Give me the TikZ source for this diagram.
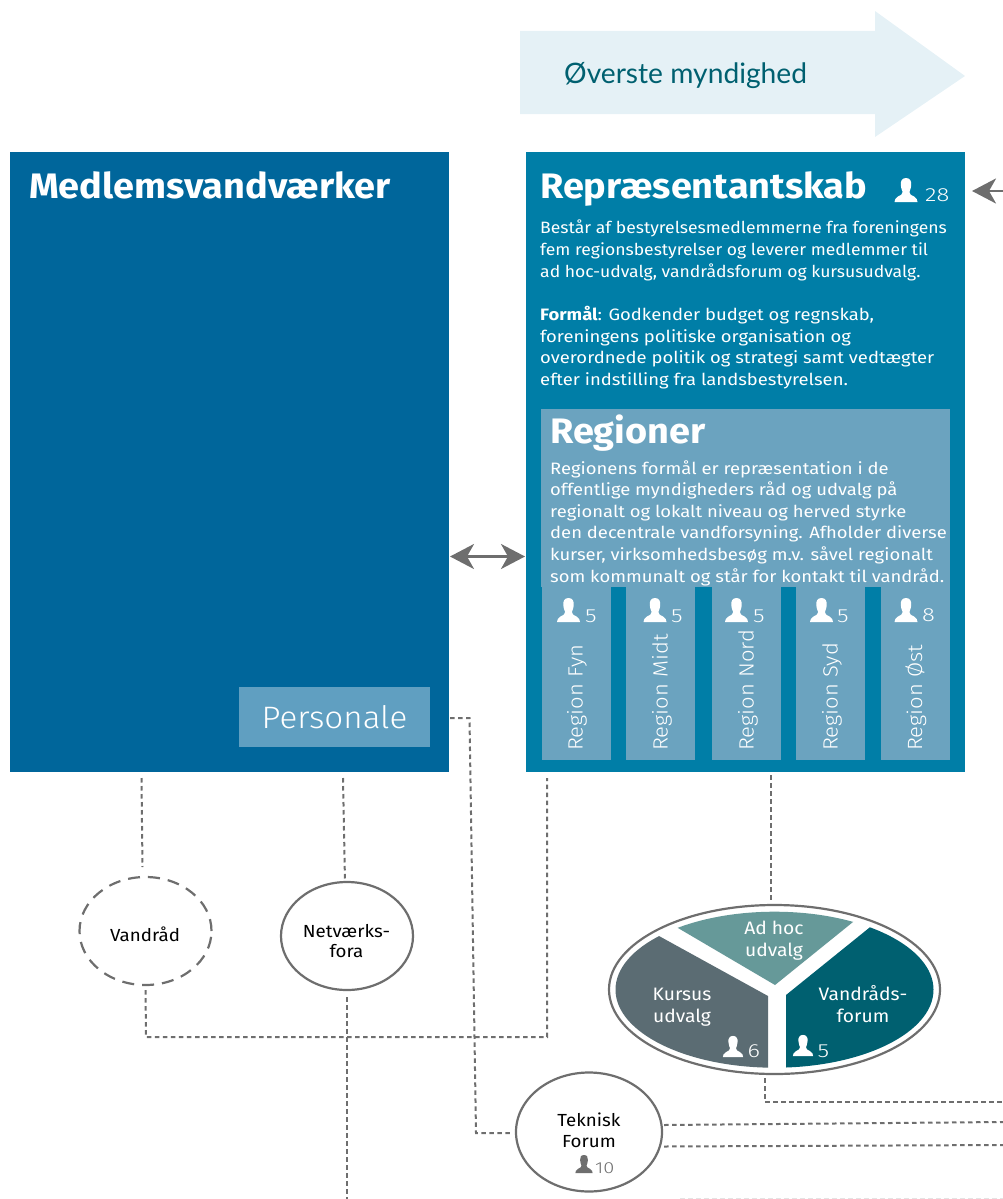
\documentclass[tikz,border=0pt]{standalone}
\usepackage{fontspec}
\setmainfont[FakeStretch=1.07,BoldFont={Fira Sans Bold}]{Fira Sans Light}
\newfontfamily\regf[FakeStretch=1.07]{Fira Sans}
\newfontfamily\regw[FakeStretch=1.117]{Fira Sans}
\newfontfamily\lightf[FakeStretch=1.07]{Fira Sans Light}
\newfontfamily\boldf[FakeStretch=1.07]{Fira Sans Bold}
\newfontfamily\boldw[FakeStretch=1.117]{Fira Sans Bold}
\newfontfamily\cntf[FakeStretch=1.25]{Fira Sans Light}
\newfontfamily\topf{Lato}
\usetikzlibrary{arrows.meta,shapes.geometric}
\definecolor{cmedlem}{HTML}{00669B}
\definecolor{crepr}{HTML}{007EA7}
\definecolor{cregion}{HTML}{6BA3BF}
\definecolor{cpers}{HTML}{609FC1}
\definecolor{cpale}{HTML}{E5F1F6}
\definecolor{cline}{HTML}{6E6E6E}
\definecolor{cadhoc}{HTML}{669999}
\definecolor{ckursus}{HTML}{5B6C73}
\definecolor{cvand}{HTML}{006070}
\definecolor{cfaint}{HTML}{E4E4E4}
\tikzset{
  panel/.style={draw=none,inner sep=0pt,anchor=north west},
  txt/.style={inner sep=0pt,anchor=north west,align=left,text=white,font=\regf\fontsize{16.4}{21.6}\selectfont},
  txtw/.style={txt,font=\regw\fontsize{16.5}{21.6}\selectfont},
  title/.style={inner sep=0pt,anchor=base west,text=white,font=\boldf\fontsize{35.4}{36}\selectfont},
  count/.style={inner sep=0pt,anchor=base west,text=white,font=\cntf\fontsize{19}{19}\selectfont},
  regcol/.style={panel,fill=cregion,minimum width=69pt,minimum height=173pt},
  regtxt/.style={inner sep=0pt,anchor=west,rotate=90,text=white,font=\lightf\fontsize{20.6}{20}\selectfont},
  circ/.style={ellipse,draw=cline,line width=2.2pt,fill=white,inner sep=0pt},
  clabel/.style={inner sep=0pt,align=center,text=black,font=\regf\fontsize{17.5}{20.8}\selectfont},
  dline/.style={draw=cline,line width=2pt,dash pattern=on 4.5pt off 3.5pt},
  tip/.style={-{Stealth[length=24pt,width=25pt,inset=7pt]},draw=cline,fill=cline,line width=2.6pt},
  segt/.style={inner sep=0pt,align=center,text=white,font=\regf\fontsize{18}{22}\selectfont},
}
\newcommand{\person}[4]{%
  \fill[#4,shift={(#1,#2)},scale=#3]
    (0,-24) .. controls (-4.2,-24) and (-5.6,-20.5) .. (-5.2,-17)
    .. controls (-5,-13.5) and (-3.8,-11.5) .. (-3.4,-10)
    .. controls (-3.2,-8) and (-5,-7) .. (-8,-5.5)
    .. controls (-10.5,-4.2) and (-11.5,-2) .. (-11.5,0)
    -- (11.5,0)
    .. controls (11.5,-2) and (10.5,-4.2) .. (8,-5.5)
    .. controls (5,-7) and (3.2,-8) .. (3.4,-10)
    .. controls (3.8,-11.5) and (5,-13.5) .. (5.2,-17)
    .. controls (5.6,-20.5) and (4.2,-24) .. (0,-24) -- cycle;}
\begin{document}
\begin{tikzpicture}[x=1pt,y=-1pt]
\useasboundingbox (0,0) rectangle (1003,1199);
% top arrow
\fill[cpale] (520,31) -- (875,31) -- (875,11) -- (965,76) -- (875,137) -- (875,114) -- (520,114) -- cycle;
\node[inner sep=0pt,anchor=base west,text=cvand,font=\topf\fontsize{28.2}{30}\selectfont] (top) at (564,83) {Øverste myndighed};
% panels
\node[panel,fill=cmedlem,minimum width=439pt,minimum height=620pt] (medlem) at (10,152) {};
\node[panel,fill=crepr,minimum width=439pt,minimum height=620pt] (repr) at (526,152) {};
\node[title] (medlemt) at (29,198) {Medlemsvandværker};
\node[title] (reprt) at (540,198) {Repræsentantskab};
\person{906}{202}{1}{white}
\node[count] (reprn) at (925,201) {28};
\node[txt] (repra) at (540,220) {Består af bestyrelsesmedlemmerne fra foreningens\\fem regionsbestyrelser og leverer medlemmer til\\ad hoc-udvalg, vandrådsforum og kursusudvalg.};
\node[txtw] (reprb) at (540,306) {{\boldw Formål}: Godkender budget og regnskab,\\foreningens politiske organisation og\\overordnede politik og strategi samt vedtægter\\efter indstilling fra landsbestyrelsen.};
% regioner
\node[panel,fill=cregion,minimum width=409pt,minimum height=178pt] (reg) at (541,409) {};
\node[title] (regt) at (550,443) {Regioner};
\node[txtw] (regb) at (550,460) {Regionens formål er repræsentation i de\\offentlige myndigheders råd og udvalg på\\regionalt og lokalt niveau og herved styrke\\den decentrale vandforsyning. Afholder diverse\\kurser, virksomhedsbesøg m.v. såvel regionalt\\som kommunalt og står for kontakt til vandråd.};
% region columns
\node[regcol] (r1) at (542,587) {};
\node[regcol] (r2) at (626,587) {};
\node[regcol] (r3) at (712,587) {};
\node[regcol] (r4) at (796,587) {};
\node[regcol] (r5) at (881,587) {};
\node[regtxt] (r1t) at (577,751) {Region Fyn};
\node[regtxt] (r2t) at (662,751) {Region Midt};
\node[regtxt] (r3t) at (748,751) {Region Nord};
\node[regtxt] (r4t) at (832,751) {Region Syd};
\node[regtxt] (r5t) at (916,751) {Region Øst};
\person{568.5}{622}{1}{white}
\person{655}{622}{1}{white}
\person{736.5}{622}{1}{white}
\person{821.5}{622}{1}{white}
\person{906}{622}{1}{white}
\node[count] (r1n) at (585,622) {5};
\node[count] (r2n) at (671,622) {5};
\node[count] (r3n) at (753,622) {5};
\node[count] (r4n) at (837,622) {5};
\node[count] (r5n) at (922,621) {8};
% personale
\node[panel,fill=cpers,minimum width=191.5pt,minimum height=60pt,text=white,font=\lightf\fontsize{31}{30}\selectfont] (pers) at (238.5,687) {Personale};
% circles
\node[circ,minimum width=132pt,minimum height=108pt,dash pattern=on 12pt off 8pt] (vandraad) at (145.5,931) {};
\node[clabel] (vandraadt) at (145,934) {Vandråd};
\node[circ,minimum width=132pt,minimum height=108pt] (netv) at (347,936) {};
\node[clabel] (netvt) at (346.5,941) {Netværks-\\fora};
\node[circ,minimum width=146pt,minimum height=119pt] (tek) at (589,1132) {};
\node[clabel] (tekt) at (589,1130.5) {Teknisk\\Forum};
\person{584}{1173}{0.75}{cline}
\node[inner sep=0pt,anchor=base west,text=cline,font=\cntf\fontsize{16}{16}\selectfont] (tekn) at (595,1173) {10};
% big ellipse
\node[ellipse,draw=cline,line width=2.2pt,fill=white,minimum width=331pt,minimum height=169pt,inner sep=0pt] (big) at (774.5,989.5) {};
\begin{scope}
\clip (774.5,989.7) ellipse [x radius=159,y radius=78];
\fill[cadhoc] (775,985) -- (581,871) -- (931,859) -- cycle;
\fill[ckursus] (768,996) -- (550,876) -- (550,1100) -- (768,1100) -- cycle;
\fill[cvand] (786,995) -- (952,861) -- (1000,861) -- (1000,1100) -- (786,1100) -- cycle;
\end{scope}
\node[segt] (adhoc) at (774,941) {Ad hoc\\udvalg};
\node[segt] (kursus) at (682,1007) {Kursus\\udvalg};
\node[segt] (vforum) at (863,1004) {Vandråds-\\forum};
\person{733}{1057}{0.88}{white}
\node[count] (kn) at (747.5,1057) {6};
\person{803}{1056}{0.88}{white}
\node[count] (vn) at (817.5,1057) {5};
% connector ends
\coordinate (a1) at (450,556.5);
\coordinate (a2) at (525,556.5);
\coordinate (b1) at (1003,191);
\coordinate (b2) at (972,191);
\coordinate (c1) at (141.5,778); \coordinate (c2) at (142.5,867);
\coordinate (d1) at (343,778); \coordinate (d2) at (345,882);
\coordinate (e1) at (145.5,990); \coordinate (e2) at (146,1037); \coordinate (e3) at (547,1037); \coordinate (e4) at (547,778);
\coordinate (f1) at (347,997); \coordinate (f2) at (347,1199);
\coordinate (g1) at (450,718); \coordinate (g2) at (469.5,718); \coordinate (g3) at (476,1133); \coordinate (g4) at (512,1133);
\coordinate (h1) at (771,775); \coordinate (h2) at (771,903);
\coordinate (i1) at (765,1078); \coordinate (i2) at (765,1102); \coordinate (i3) at (1003,1102);
\coordinate (j1) at (664,1125); \coordinate (j2) at (1003,1122);
\coordinate (k1) at (664,1146.5); \coordinate (k2) at (1003,1145);
\coordinate (l1) at (680,1198); \coordinate (l2) at (1003,1198);
% connectors
\draw[tip] (b1) -- (b2);
\draw[{Stealth[length=24pt,width=25pt,inset=7pt]}-{Stealth[length=24pt,width=25pt,inset=7pt]},draw=cline,fill=cline,line width=2.6pt] (a1) -- (a2);
\draw[dline] (c1) -- (c2);
\draw[dline] (d1) -- (d2);
\draw[dline] (e1) -- (e2) -- (e3) -- (e4);
\draw[dline] (f1) -- (f2);
\draw[dline] (g1) -- (g2) -- (g3) -- (g4);
\draw[dline] (h1) -- (h2);
\draw[dline] (i1) -- (i2) -- (i3);
\draw[dline] (j1) -- (j2);
\draw[dline] (k1) -- (k2);
\draw[draw=cfaint,line width=1pt,dash pattern=on 4.5pt off 3.5pt] (l1) -- (l2);
\end{tikzpicture}
\end{document}
